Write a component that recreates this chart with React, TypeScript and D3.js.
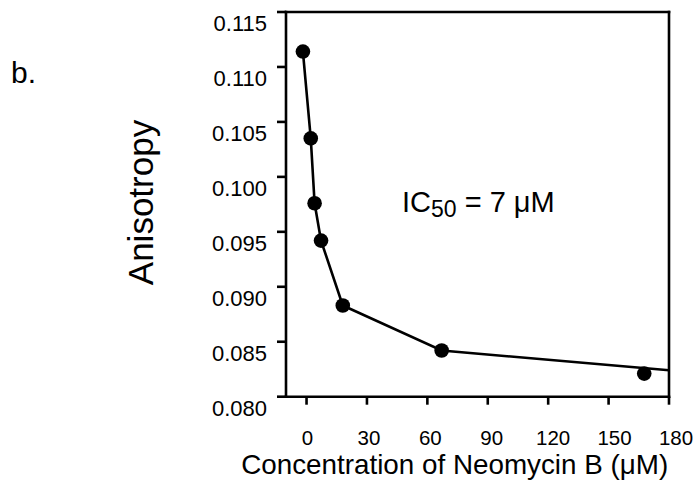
import React from "react";
import * as d3 from "d3";

const concentration = [-1.8, 2.1, 4.0, 7.2, 18.0, 67.1, 167.7];
const anisotropy = [0.1114, 0.1035, 0.0976, 0.0942, 0.0883, 0.0842, 0.0821];
const fitConcentration = [-1.8, 2.1, 4.0, 7.2, 18.0, 67.1, 180];
const fitAnisotropy = [0.1114, 0.1035, 0.0976, 0.0942, 0.0883, 0.0842, 0.0824];
const xTicks = [0, 30, 60, 90, 120, 150, 180];
const yTicks = [0.08, 0.085, 0.09, 0.095, 0.1, 0.105, 0.11, 0.115];

const FONT = "'Liberation Sans', Arial, Helvetica, sans-serif";

export default function App() {
  const W = 695;
  const H = 480;
  const x = d3.scaleLinear().domain([-10.2, 180]).range([286, 669]);
  const xLabel = d3.scaleLinear().domain([0, 180]).range([307.5, 676]);
  const y = d3.scaleLinear().domain([0.08, 0.115]).range([396.7, 12]);
  const left = x(-10.2);
  const right = x(180);
  const top = y(0.115);
  const bottom = y(0.08);

  const line = d3
    .line<number>()
    .x((_, i) => x(fitConcentration[i]))
    .y((d) => y(d));

  const sw = 2.6;

  return (
    <div style={{ position: "absolute", left: 0, top: 0 }}>
      <svg width={W} height={H} style={{ display: "block", background: "#fff" }}>
        <rect x={0} y={0} width={W} height={H} fill="#fff" />
        {/* panel label */}
        <text x={11} y={83.3} fontFamily={FONT} fontSize={30} fill="#000">
          b.
        </text>

        {/* frame */}
        <g stroke="#000" strokeWidth={sw} fill="none" strokeLinecap="square">
          <line x1={left} y1={top} x2={left} y2={bottom} />
          <line x1={left} y1={bottom} x2={right} y2={bottom} />
          <line x1={left} y1={top} x2={right} y2={top} />
          <line x1={right} y1={top} x2={right} y2={bottom} />
        </g>

        {/* y ticks */}
        <g>
          {yTicks.map((t) => (
            <g key={t}>
              <line x1={left - 9} x2={left} y1={y(t)} y2={y(t)} stroke="#000" strokeWidth={sw} />
              <text
                x={267}
                y={y(t) + 18.9}
                textAnchor="end"
                fontFamily={FONT}
                fontSize={22}
                fill="#000"
              >
                {d3.format(".3f")(t)}
              </text>
            </g>
          ))}
        </g>

        {/* x ticks */}
        <g>
          {xTicks.map((t) => (
            <g key={t}>
              <line x1={x(t)} x2={x(t)} y1={bottom} y2={bottom + 8} stroke="#000" strokeWidth={sw} />
              <text
                x={xLabel(t)}
                y={445}
                textAnchor="middle"
                fontFamily={FONT}
                fontSize={20.5}
                fill="#000"
              >
                {t}
              </text>
            </g>
          ))}
        </g>

        {/* fit line */}
        <path d={line(fitAnisotropy) || ""} fill="none" stroke="#000" strokeWidth={2.6} />

        {/* data points */}
        {anisotropy.map((v, i) => (
          <circle key={i} cx={x(concentration[i])} cy={y(v)} r={7.3} fill="#000" />
        ))}

        {/* annotation */}
        <text x={402} y={211.7} fontFamily={FONT} fontSize={29} fill="#000">
          IC
          <tspan fontSize={23} dy={5}>
            50
          </tspan>
          <tspan dy={-5}> = 7 μM</tspan>
        </text>

        {/* axis titles */}
        <text
          x={454.7}
          y={474}
          textAnchor="middle"
          fontFamily={FONT}
          fontSize={27.8}
          fill="#000"
        >
          Concentration of Neomycin B (μM)
        </text>
        <text
          transform="translate(153,202.5) rotate(-90)"
          textAnchor="middle"
          fontFamily={FONT}
          fontSize={35}
          fill="#000"
        >
          Anisotropy
        </text>
      </svg>
    </div>
  );
}
